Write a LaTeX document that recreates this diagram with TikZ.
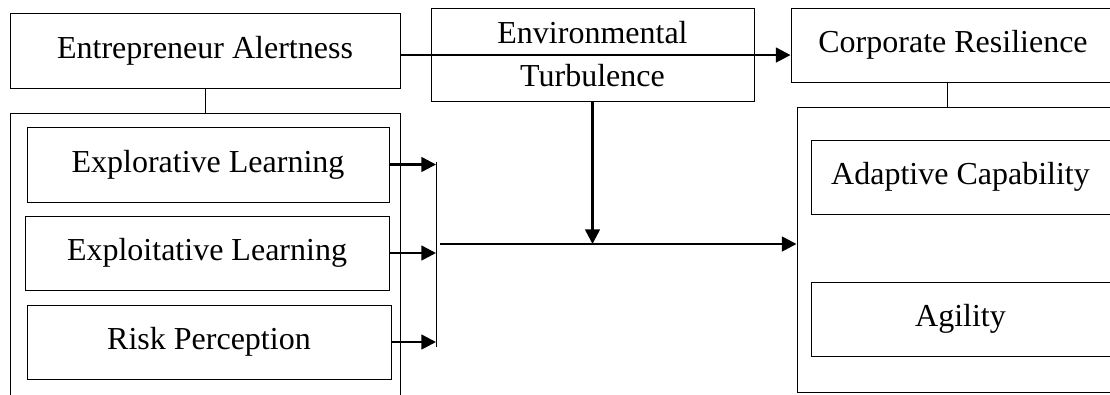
\documentclass[tikz,border=0pt]{standalone}
\usepackage{fontspec}
\setmainfont{Liberation Serif}
\usetikzlibrary{arrows.meta,positioning}

\begin{document}
\begin{tikzpicture}[x=0.75pt,y=-0.75pt,
box/.style={draw,line width=0.7pt,inner sep=0pt,align=center,font=\fontsize{24}{32.25}\selectfont},arr/.style={-{Triangle[length=11pt,width=11pt]},line width=1.9pt},link/.style={line width=0.7pt}]
\clip (0,0) rectangle (1110,394);
% left side
\node[box,minimum width=292.5pt,minimum height=56.25pt] (ea) at (205,50.5) {Entrepreneur Alertness};
\node[box,minimum width=292.5pt,minimum height=217.5pt] (lo) at (205,258) {};
\node[box,minimum width=271.5pt,minimum height=56.25pt] (el) at (208,164.5) {Explorative Learning};
\node[box,minimum width=273pt,minimum height=55.5pt] (xl) at (207,253) {Exploitative Learning};
\node[box,minimum width=273pt,minimum height=55.5pt] (rp) at (209,342) {Risk Perception};
% moderator
\node[box,minimum width=242.25pt,minimum height=69.75pt] (et) at (592.5,54.5) {Environmental\\Turbulence};
% right side
\node[box,minimum width=243pt,minimum height=55.5pt] (cr) at (953,45) {Corporate Resilience};
\node[box,minimum width=242.25pt,minimum height=213.75pt] (ro) at (958.5,249.5) {};
\node[box,minimum width=224.25pt,minimum height=55.5pt] (ac) at (960.5,177) {Adaptive Capability};
\node[box,minimum width=224.25pt,minimum height=55.5pt] (ag) at (960.5,319) {Agility};
\coordinate (br) at (436,167);
\coordinate (mid) at (440,244);
\draw[link] (ea.south) -- (lo.north);
\draw[link] ([xshift=-4pt]cr.south) -- ([xshift=-4pt]cr.south |- ro.north);
\draw[arr] ([yshift=-3.4pt]ea.east) -- ([yshift=-3.4pt]ea.east -| cr.west);
\draw[arr] (el.east) -- (el.east -| br);
\draw[arr] (xl.east) -- (xl.east -| br);
\draw[arr] (rp.east) -- (rp.east -| br);
\draw[link] ([yshift=2pt]el.east -| br) -- ([yshift=-4pt]rp.east -| br);
\draw[arr] (mid) -- (mid -| ro.west);
\draw[arr] (et.south) -- (et.south |- mid);
\end{tikzpicture}
\end{document}
